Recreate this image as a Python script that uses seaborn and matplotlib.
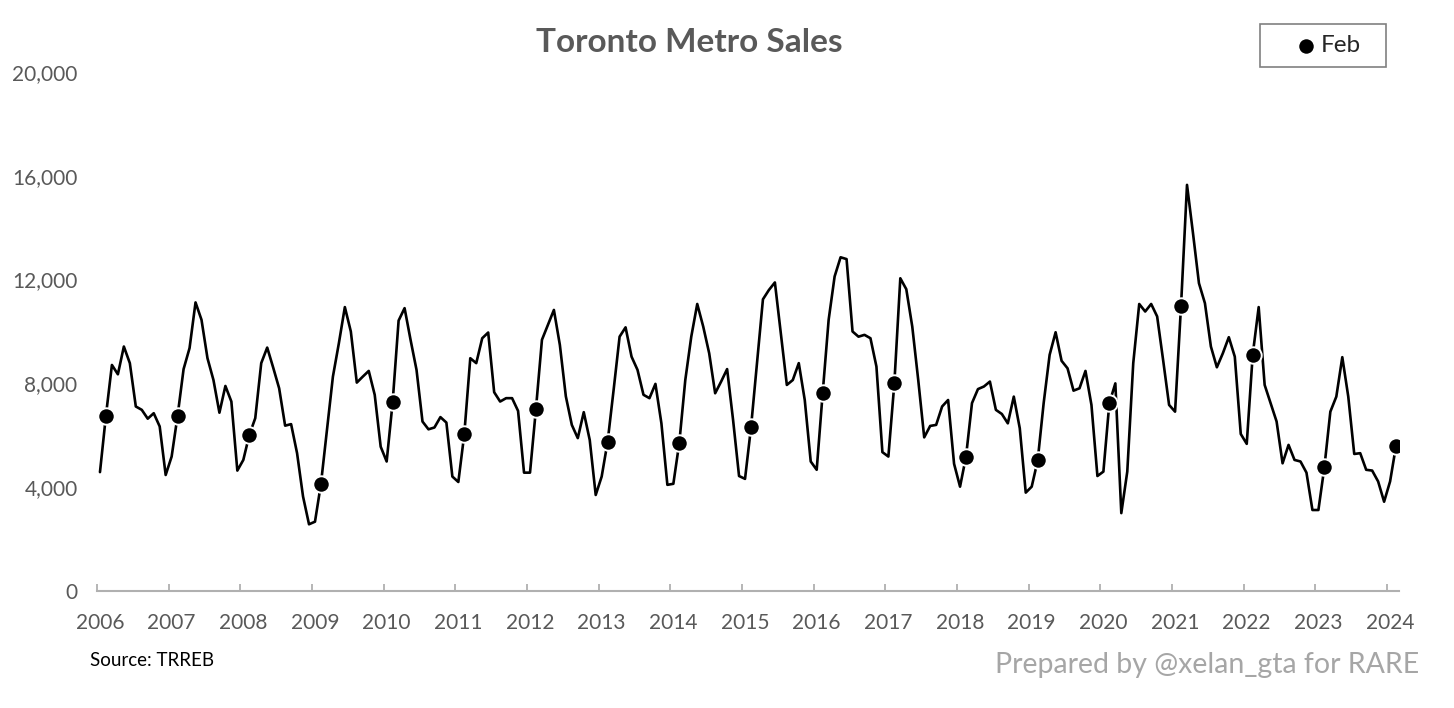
import seaborn as sns
import matplotlib.pyplot as plt
import pandas as pd
from matplotlib.patches import Rectangle

# monthly sales, Toronto Metro
months = ["Jan", "Feb", "Mar", "Apr", "May", "Jun", "Jul", "Aug", "Sep", "Oct", "Nov", "Dec"]
years = list(range(2006, 2025))

s2006 = [4580, 6760, 8710, 8350, 9420, 8780, 7110, 6980, 6640, 6850, 6340, 4470]
s2007 = [5180, 6760, 8550, 9360, 11120, 10450, 8970, 8130, 6870, 7900, 7300, 4640]
s2008 = [5050, 6010, 6660, 8780, 9380, 8610, 7810, 6370, 6430, 5310, 3640, 2570]
s2009 = [2670, 4130, 6210, 8260, 9550, 10940, 10000, 8030, 8260, 8480, 7560, 5560]
s2010 = [4990, 7270, 10420, 10900, 9680, 8520, 6530, 6230, 6300, 6700, 6490, 4410]
s2011 = [4200, 6050, 8970, 8780, 9740, 9960, 7660, 7300, 7430, 7430, 6940, 4560]
s2012 = [4560, 7030, 9680, 10250, 10830, 9480, 7500, 6400, 5890, 6890, 5820, 3700]
s2013 = [4410, 5760, 7750, 9800, 10160, 9030, 8520, 7560, 7430, 7980, 6460, 4090]
s2014 = [4130, 5720, 8130, 9800, 11060, 10190, 9160, 7620, 8070, 8550, 6590, 4430]
s2015 = [4320, 6300, 8780, 11240, 11600, 11890, 9930, 7940, 8130, 8780, 7360, 4990]
s2016 = [4670, 7620, 10450, 12120, 12860, 12790, 10000, 9800, 9870, 9740, 8650, 5350]
s2017 = [5180, 8000, 12050, 11630, 10190, 8130, 5920, 6360, 6400, 7110, 7360, 4900]
s2018 = [4020, 5180, 7240, 7780, 7880, 8070, 6980, 6820, 6460, 7490, 6270, 3790]
s2019 = [4020, 5030, 7240, 9100, 9970, 8870, 8580, 7720, 7810, 8480, 7170, 4430]
s2020 = [4600, 7240, 8000, 3000, 4600, 8780, 11060, 10770, 11060, 10580, 8900, 7170]
s2021 = [6910, 10990, 15650, 13790, 11860, 11090, 9420, 8620, 9160, 9780, 9030, 6050]
s2022 = [5670, 9100, 10940, 7940, 7240, 6530, 4920, 5630, 5050, 4990, 4560, 3120]
s2023 = [3120, 4770, 6910, 7490, 9010, 7490, 5280, 5310, 4670, 4640, 4220, 3440]
s2024 = [4220, 5600]

yearly = [s2006, s2007, s2008, s2009, s2010, s2011, s2012, s2013, s2014,
          s2015, s2016, s2017, s2018, s2019, s2020, s2021, s2022, s2023, s2024]

rows = []
for yr, vals in zip(years, yearly):
    for m, v in zip(months, vals):
        rows.append({"year": yr, "month": m, "sales": v})
df = pd.DataFrame(rows)
df["t"] = range(len(df))
feb = df[df["month"] == "Feb"]

sns.set_style("white")
plt.rcParams["font.family"] = ["Lato", "DejaVu Sans"]

fig = plt.figure(figsize=(14.54, 7.08), dpi=100)
ax = fig.add_axes([0.0667, 0.1653, 0.8955, 0.733])

sns.lineplot(data=df, x="t", y="sales", color="black", linewidth=1.9, ax=ax)
sns.scatterplot(data=feb, x="t", y="sales", color="black", s=140, edgecolor="white",
                linewidth=1.4, ax=ax, label="Feb", zorder=3)

ax.set_xlim(-0.5, len(df) - 0.5)
ax.set_ylim(0, 20000)
ax.set_xlabel("")
ax.set_ylabel("")

ax.set_yticks(range(0, 20001, 4000))
ax.set_yticklabels([f"{v:,}" for v in range(0, 20001, 4000)])
ax.tick_params(axis="y", length=0, pad=14, labelsize=15, labelcolor="#595959")

ax.set_xticks([12 * k for k in range(len(years))])
ax.set_xticklabels([str(y) for y in years])
ax.set_xticks([12 * k - 0.5 for k in range(len(years))], minor=True)
ax.tick_params(axis="x", which="major", length=0, pad=16, labelsize=15, labelcolor="#595959")
ax.tick_params(axis="x", which="minor", direction="in", length=5, width=1.3, color="#b0b0b0", bottom=True)

for side in ["left", "top", "right"]:
    ax.spines[side].set_visible(False)
ax.spines["bottom"].set_color("#b0b0b0")
ax.spines["bottom"].set_linewidth(1.5)

# legend box drawn separately so the padding matches the original
fig.patches.append(Rectangle((1260 / 1454, 1 - 67 / 708), 126 / 1454, 43 / 708,
                             transform=fig.transFigure, facecolor="none",
                             edgecolor="#808080", linewidth=1.2, zorder=-1))
leg = ax.legend(loc="center left", bbox_to_anchor=(1294 / 1454, 1 - 45.5 / 708),
                bbox_transform=fig.transFigure, frameon=False, fontsize=17.5,
                borderaxespad=0, borderpad=0, handletextpad=0.1,
                handlelength=1.0, markerscale=1.0)

fig.text(0.474, 1 - 42 / 708, "Toronto Metro Sales", ha="center", va="center",
         fontsize=24, fontweight="bold", color="#595959")
fig.text(90 / 1454, 1 - 661 / 708, "Source: TRREB", ha="left", va="center",
         fontsize=13.5, color="black")
fig.text(995 / 1454, 1 - 665 / 708, "Prepared by @xelan_gta for RARE", ha="left", va="center",
         fontsize=20.5, color="#a6a6a6")

fig.savefig("out.png", dpi=100, facecolor="white")
